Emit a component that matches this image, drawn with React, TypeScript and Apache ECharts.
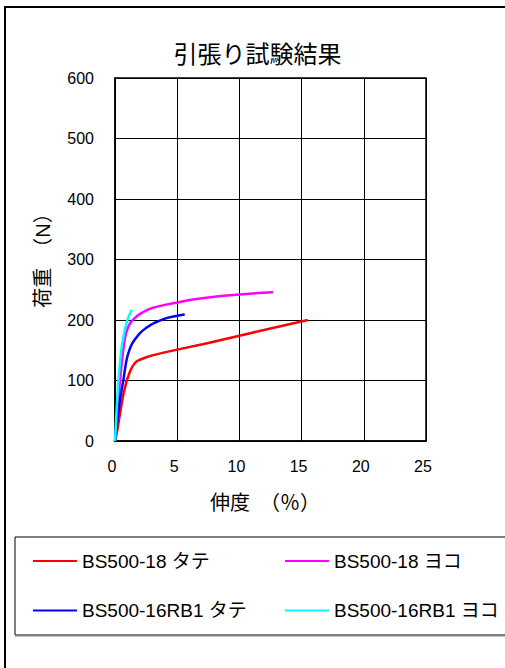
import React, { useEffect, useRef } from "react";
import * as echarts from "echarts";

const titleText = "引張り試験結果";
const xAxisName = "伸度　（％）";
const yAxisName = "荷重　（N）";
const xTicks = [0, 5, 10, 15, 20, 25];
const yTicks = [0, 100, 200, 300, 400, 500, 600];

const seriesNames = ["BS500-18 タテ", "BS500-18 ヨコ", "BS500-16RB1 タテ", "BS500-16RB1 ヨコ"];
const seriesColors = ["#FF0000", "#FF00FF", "#0000FF", "#00FFFF"];

const bs18Tate: [number, number][] = [
  [0, 0], [0.1, 9], [0.2, 20], [0.3, 32], [0.4, 45], [0.52, 60], [0.65, 75], [0.8, 88],
  [0.95, 100], [1.1, 109], [1.25, 117], [1.4, 123], [1.55, 127.5], [1.7, 131], [1.9, 133.5],
  [2.2, 136], [2.6, 139], [3, 141.5], [4, 146.5], [5, 151], [7.5, 162], [10, 174],
  [12.5, 186], [15.5, 200],
];
const bs18Yoko: [number, number][] = [
  [0, 0], [0.1, 25], [0.2, 50], [0.3, 75], [0.4, 100], [0.5, 121], [0.6, 140], [0.7, 157],
  [0.8, 170], [0.9, 179], [1.05, 188], [1.2, 194], [1.35, 198], [1.55, 202.5], [1.8, 207],
  [2.05, 210.5], [2.3, 213.5], [2.65, 217], [3, 220], [3.5, 222.5], [4, 225], [5, 229],
  [6, 233], [7, 236], [8.5, 239.5], [10, 242], [11.5, 244.5], [12.7, 246],
];
const rb1Tate: [number, number][] = [
  [0, 0], [0.12, 22], [0.25, 45], [0.35, 60], [0.45, 75], [0.56, 88], [0.67, 100],
  [0.76, 113], [0.85, 125], [0.95, 136], [1.07, 145], [1.2, 153], [1.35, 160], [1.55, 166.5],
  [1.75, 172], [1.95, 177], [2.2, 182], [2.5, 187], [2.8, 191], [3.15, 195], [3.5, 198],
  [3.85, 201], [4.2, 203.5], [4.6, 205.5], [5.1, 207.5], [5.6, 209],
];
const rb1Yoko: [number, number][] = [
  [0, 0], [0.05, 18], [0.1, 40], [0.18, 70], [0.27, 100], [0.33, 115], [0.4, 130],
  [0.47, 144], [0.55, 157], [0.65, 169], [0.75, 180], [0.85, 189], [0.95, 197],
  [1.05, 203], [1.15, 208], [1.25, 212.5], [1.35, 217],
];

const seriesData = [bs18Tate, bs18Yoko, rb1Tate, rb1Yoko];
const legendPos: [number, number][] = [[33, 551.5], [285, 551.5], [33, 601], [285, 601]];

const FONT = "'Liberation Sans', 'Noto Sans CJK JP', sans-serif";

export default function App() {
  const ref = useRef<HTMLDivElement>(null);
  useEffect(() => {
    if (!ref.current) return;
    const chart = echarts.init(ref.current, undefined, { renderer: "svg" });
    const option: any = {
      animation: false,
      backgroundColor: "#fff",
      grid: {
        left: 115, top: 78, width: 311, height: 363,
        show: true, borderColor: "#000", borderWidth: 1.5, backgroundColor: "transparent",
      },
      xAxis: {
        type: "value",
        min: xTicks[0], max: xTicks[xTicks.length - 1], interval: xTicks[1] - xTicks[0],
        name: xAxisName, nameLocation: "middle", nameGap: 52,
        nameTextStyle: { fontSize: 20, color: "#000", fontFamily: FONT, padding: [0, 11, 0, 0] },
        axisLine: { show: true, lineStyle: { color: "#000", width: 1.5 } },
        axisTick: { show: false },
        axisLabel: { fontSize: 16, color: "#000", fontFamily: FONT, margin: 17, padding: [0, 6, 0, 0] },
        splitLine: { show: true, lineStyle: { color: "#000", width: 1 } },
      },
      yAxis: {
        type: "value",
        min: yTicks[0], max: yTicks[yTicks.length - 1], interval: yTicks[1] - yTicks[0],
        name: yAxisName, nameLocation: "middle", nameGap: 62, nameRotate: 90,
        nameTextStyle: { fontSize: 20, color: "#000", fontFamily: FONT, padding: [0, 0, 0, 8] },
        axisLine: { show: true, lineStyle: { color: "#000", width: 1.5 } },
        axisTick: { show: false },
        axisLabel: { fontSize: 16, color: "#000", fontFamily: FONT, margin: 21 },
        splitLine: { show: true, lineStyle: { color: "#000", width: 1 } },
      },
      legend: seriesNames.map((n, i) => ({
        data: [{ name: n, icon: "rect", itemStyle: { color: seriesColors[i] } }],
        left: legendPos[i][0], top: legendPos[i][1],
        padding: 0,
        itemWidth: 44, itemHeight: 2,
        selectedMode: false,
        textStyle: { fontSize: 19, color: "#000", fontFamily: FONT, lineHeight: 19 },
      })),
      series: seriesNames.map((n, i) => ({
        name: n,
        type: "line",
        data: seriesData[i],
        showSymbol: false,
        symbol: "none",
        smooth: false,
        lineStyle: { color: seriesColors[i], width: 2.5 },
        itemStyle: { color: seriesColors[i] },
      })),
      graphic: [
        {
          type: "rect", shape: { x: 5, y: 7, width: 620, height: 700 },
          style: { fill: "none", stroke: "#000", lineWidth: 2 }, silent: true,
        },
        {
          type: "rect", shape: { x: 15, y: 537, width: 520, height: 98 },
          style: { fill: "none", stroke: "#000", lineWidth: 1 }, silent: true,
        },
        {
          type: "line", shape: { x1: 15, y1: 635.5, x2: 520, y2: 635.5 },
          style: { stroke: "#808080", lineWidth: 2 }, silent: true,
        },
        {
          type: "text", x: 257.5, y: 54,
          style: {
            text: titleText, fontSize: 24, fill: "#000", fontFamily: FONT,
            align: "center", verticalAlign: "middle",
          },
        },
      ],
    };
    chart.setOption(option);
    return () => chart.dispose();
  }, []);
  return (
    <div
      ref={ref}
      style={{ position: "absolute", left: 0, top: 0, width: 505, height: 668 }}
    />
  );
}
